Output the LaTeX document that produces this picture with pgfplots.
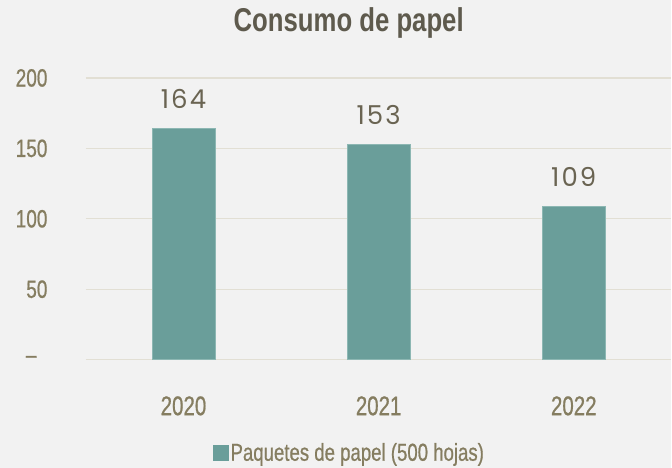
\documentclass[border=0pt]{standalone}
\usepackage{fontspec}
\setmainfont{Liberation Sans}[FakeStretch=0.78]
\newfontfamily\medfont{Liberation Sans}[FakeStretch=0.76, FakeBold=0.7]
\newfontfamily\labfont{Poppins}[LetterSpace=8]
\usepackage{pgfplots}
\pgfplotsset{compat=1.18}
\definecolor{bg}{HTML}{F2F2F2}
\definecolor{gridc}{HTML}{E2DFD4}
\definecolor{barc}{HTML}{6A9E9A}
\definecolor{barb}{HTML}{8DB7B3}
\definecolor{titlec}{HTML}{5E5A4D}
\definecolor{tickc}{HTML}{857D60}
\definecolor{labc}{HTML}{6A6452}
\begin{document}
\begin{tikzpicture}
\fill[bg] (-86pt,-108pt) rectangle (586pt,360pt);
\begin{axis}[
  at={(0,0)}, anchor=south west,
  scale only axis, width=586pt, height=282pt,
  xmin=-0.5, xmax=2.5, ymin=0, ymax=200,
  ybar, bar width=63pt,
  axis line style={draw=none}, tick style={draw=none},
  ytick={0,50,100,150,200},
  yticklabels={{\textendash\rule{11pt}{0pt}},50,100,150,200},
  ymajorgrids, grid style={color=gridc, line width=1.3pt},
  xtick=data, xticklabels={2020,2021,2022},
  /pgf/number format/assume math mode=true,
  yticklabel style={font=\medfont\fontsize{25}{25}\selectfont, color=tickc, anchor=east, xshift=-35pt},
  xticklabel style={font=\medfont\fontsize{27}{27}\selectfont, color=tickc, anchor=center, yshift=-42pt},
  nodes near coords,
  every node near coord/.append style={font=\labfont\fontsize{26}{26}\selectfont, color=labc, anchor=south, yshift=16pt},
  clip=false,
  legend style={at={(0.45,-0.33)}, anchor=center, draw=none, fill=none,
    font=\medfont\fontsize{24.5}{24.5}\selectfont, text=tickc,
    /tikz/every even column/.append style={column sep=4pt}},
  legend image code/.code={\fill[barc] (0pt,-7.5pt) rectangle (15pt,7.5pt);},
]
\addplot[fill=barc, draw=barb, line width=0.8pt] coordinates {(0,164) (1,153) (2,109)};
\addlegendentry{Paquetes de papel (500 hojas)}
\end{axis}
\node[font=\bfseries\fontsize{33}{33}\selectfont, color=titlec] at (263pt,337pt) {Consumo de papel};
\end{tikzpicture}
\end{document}
